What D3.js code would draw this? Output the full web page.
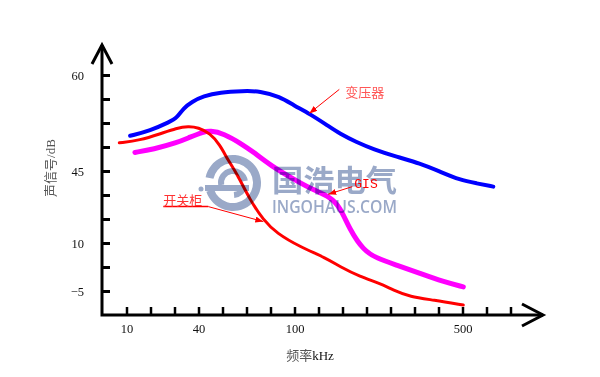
<!DOCTYPE html>
<html>
<head>
<meta charset="utf-8">
<script src="https://cdn.jsdelivr.net/npm/d3@7"></script>
<style>
  body { margin: 0; background: #fff; }
  svg { display: block; }
</style>
</head>
<body>
<div id="chart"></div>
<script>
// Labelled ticks on both axes (the axes are not to scale)
const xLabels = [10, 40, 100, 500];
const yLabels = [-5, 10, 45, 60];

// Transformer (变压器)
const transformerFreq = [11.5, 19.8, 28.1, 31.0, 33.7, 37.2, 43.0, 53.4, 67.8, 78.4, 90.9, 99.3, 136.9, 176.7, 208.3, 248.1, 287.6, 343.3, 398.8, 446.3, 494.1, 533.9, 573.3];
const transformerLevel = [50.5, 51.3, 52.7, 53.3, 54.8, 55.8, 56.7, 57.3, 57.5, 57.5, 56.6, 55.3, 53.9, 52.2, 50.8, 49.5, 48.4, 47.2, 46.2, 44.7, 40.6, 39.0, 37.4];

// GIS
const gisFreq = [13.5, 21.2, 30.9, 36.5, 43.0, 47.2, 55.5, 67.8, 74.1, 84.7, 105.2, 144.8, 184.5, 208.3, 232.1, 263.8, 295.7, 343.3, 398.8, 454.3, 501.9];
const gisLevel = [47.9, 48.4, 49.4, 50.3, 51.1, 51.3, 50.9, 49.1, 48.0, 45.9, 40.1, 35.8, 32.5, 27.6, 16.3, 7.8, 5.2, 3.1, 0.5, -2.1, -3.7];

// Switchgear (开关柜)
const switchFreq = [7.0, 15.6, 24.0, 30.9, 35.75, 39.9, 47.2, 53.4, 58.4, 63.9, 72.2, 80.5, 88.9, 113.1, 176.7, 208.3, 255.9, 303.6, 335.2, 375.0, 430.5, 501.9];
const switchLevel = [49.4, 49.8, 50.8, 51.7, 52.0, 51.8, 50.9, 49.1, 46.7, 43.9, 30.9, 21.2, 14.7, 8.8, 5.2, 2.6, -0.5, -2.6, -4.7, -6.8, -7.8, -9.4];

const width = 600, height = 377;
const origin = { x: 102, y: 315 };
const step = 24;             // spacing of the minor ticks
const xTickCount = 17, yTickCount = 10;
const xLabelTick = [0, 3, 7, 14];   // minor tick carrying each x label
const yLabelTick = [0, 2, 5, 9];    // minor tick carrying each y label

const svg = d3.select("#chart")
  .append("svg")
  .attr("width", width)
  .attr("height", height)
  .style("font-family", "'Liberation Serif', serif");

// Tick index scales, then piecewise scales for the values
const xIdx = d3.scaleLinear()
  .domain([0, xTickCount - 1])
  .range([origin.x + step + 0.5, origin.x + step * xTickCount + 0.5]);
const yIdx = d3.scaleLinear()
  .domain([0, yTickCount - 1])
  .range([origin.y - step, origin.y - step * yTickCount]);

const x = d3.scaleLinear().domain(xLabels).range(xLabelTick.map(xIdx));
const y = d3.scaleLinear().domain(yLabels).range(yLabelTick.map(yIdx));

const fmt = d3.format("d");

// x axis ticks + labels
const xAxis = svg.append("g")
  .attr("transform", `translate(0,${origin.y})`)
  .call(d3.axisBottom(xIdx)
    .tickValues(d3.range(xTickCount))
    .tickSize(-8)
    .tickPadding(9)
    .tickFormat(i => {
      const k = xLabelTick.indexOf(i);
      return k >= 0 ? fmt(xLabels[k]) : "";
    }));
xAxis.select(".domain").remove();
xAxis.selectAll("line").attr("stroke", "#000").attr("stroke-width", 2.5);
xAxis.selectAll("text").attr("font-size", 12.5).attr("fill", "#111")
  .attr("font-family", "'Liberation Serif', serif");

// y axis ticks + labels
const yAxis = svg.append("g")
  .attr("transform", `translate(${origin.x},0)`)
  .call(d3.axisLeft(yIdx)
    .tickValues(d3.range(yTickCount))
    .tickSize(-8)
    .tickPadding(18)
    .tickFormat(j => {
      const k = yLabelTick.indexOf(j);
      return k >= 0 ? fmt(yLabels[k]) : "";
    }));
yAxis.select(".domain").remove();
yAxis.selectAll("line").attr("stroke", "#000").attr("stroke-width", 3);
yAxis.selectAll("text").attr("font-size", 12.5).attr("fill", "#111")
  .attr("font-family", "'Liberation Serif', serif");

// axis lines with open arrows
const axisStyle = g => g.attr("fill", "none").attr("stroke", "#000").attr("stroke-width", 3);
svg.append("path")
  .attr("d", `M${origin.x},45 V${origin.y} H543`)
  .call(axisStyle);
svg.append("path")
  .attr("d", `M${origin.x - 10},64 L${origin.x},45 L${origin.x + 10},64`)
  .call(axisStyle);
svg.append("path")
  .attr("d", `M522,304 L543,${origin.y} L522,326`)
  .call(axisStyle);

// axis titles
svg.append("text")
  .attr("x", 310)
  .attr("y", 360)
  .attr("text-anchor", "middle")
  .attr("font-size", 13)
  .call(t => {
    t.append("tspan").attr("font-family", "'Noto Sans CJK SC'").attr("fill", "#555").text("频率");
    t.append("tspan").attr("fill", "#111").text("kHz");
  });

svg.append("text")
  .attr("transform", "translate(55,168) rotate(-90)")
  .attr("text-anchor", "middle")
  .attr("font-size", 13)
  .attr("fill", "#555")
  .call(t => {
    t.append("tspan").attr("font-family", "'Noto Sans CJK SC'").text("声信号");
    t.append("tspan").text("/dB");
  });

// curves
const line = d3.line()
  .x(d => x(d[0]))
  .y(d => y(d[1]))
  .curve(d3.curveBasis);

const series = [
  { freq: transformerFreq, level: transformerLevel, color: "#0000ff", w: 4 },
  { freq: gisFreq, level: gisLevel, color: "#ff00ff", w: 5 },
  { freq: switchFreq, level: switchLevel, color: "#ff0000", w: 3 }
];

series.forEach(s => {
  svg.append("path")
    .datum(d3.zip(s.freq, s.level))
    .attr("d", line)
    .attr("fill", "none")
    .attr("stroke", s.color)
    .attr("stroke-width", s.w)
    .attr("stroke-linecap", "round");
});

// watermark (drawn multiplied over the curves)
const wm = svg.append("g")
  .style("mix-blend-mode", "multiply")
  .attr("fill", "#9aa9c8");
const cx = 233, cy = 183;
const deg = Math.PI / 180;
wm.append("path")
  .attr("transform", `translate(${cx},${cy})`)
  .attr("d", d3.arc().innerRadius(20).outerRadius(28).startAngle(-78 * deg).endAngle(252 * deg)());
wm.append("path")
  .attr("transform", `translate(${cx},${cy})`)
  .attr("d", d3.arc().innerRadius(9).outerRadius(15).startAngle(-100 * deg).endAngle(80 * deg)());
wm.append("path")
  .attr("transform", `translate(${cx},${cy})`)
  .attr("d", d3.arc().innerRadius(9).outerRadius(15).startAngle(100 * deg).endAngle(175 * deg)());
wm.append("rect")
  .attr("x", cx - 28).attr("y", cy + 2).attr("width", 44).attr("height", 6);
wm.append("circle")
  .attr("cx", cx - 32).attr("cy", cy + 6).attr("r", 2.5);
wm.append("text")
  .attr("x", 272).attr("y", 191)
  .attr("font-family", "'Noto Sans CJK SC'")
  .attr("font-weight", "bold")
  .attr("font-size", 30)
  .attr("textLength", 125)
  .attr("lengthAdjust", "spacingAndGlyphs")
  .text("国浩电气");
wm.append("text")
  .attr("x", 272).attr("y", 213)
  .attr("font-family", "'Open Sans', sans-serif")
  .attr("font-weight", 600)
  .attr("font-size", 17.5)
  .attr("textLength", 125)
  .attr("lengthAdjust", "spacingAndGlyphs")
  .text("INGOHAUS.COM");

// annotations
svg.append("defs").append("marker")
  .attr("id", "head")
  .attr("markerUnits", "userSpaceOnUse")
  .attr("markerWidth", 8).attr("markerHeight", 6)
  .attr("refX", 8).attr("refY", 3)
  .attr("orient", "auto")
  .append("path")
  .attr("d", "M0,0 L8,3 L0,6 z")
  .attr("fill", "#ff0000");

const notes = [
  { text: "变压器", freq: 135.2, level: 54.0, dx: 30, dy: -24, tx: 6, ty: 8, font: "'Noto Sans CJK SC'", fill: "#ff5555" },
  { text: "GIS", freq: 180.5, level: 33.7, dx: 24, dy: -7.6, tx: 2, ty: 1, font: "'Liberation Mono', monospace", fill: "#ff0000" },
  { text: "开关柜", freq: 80.5, level: 20.4, dx: -55, dy: -15, tx: -45, ty: -2, font: "'Noto Sans CJK SC'", fill: "#ff3333", underline: 45 }
];

notes.forEach(n => {
  const px = x(n.freq), py = y(n.level);
  const sx = px + n.dx, sy = py + n.dy;
  svg.append("line")
    .attr("x1", sx).attr("y1", sy)
    .attr("x2", px).attr("y2", py)
    .attr("stroke", "#ff0000")
    .attr("stroke-width", 1)
    .attr("marker-end", "url(#head)");
  if (n.underline) {
    svg.append("line")
      .attr("x1", sx - n.underline).attr("y1", sy)
      .attr("x2", sx).attr("y2", sy)
      .attr("stroke", "#ff0000")
      .attr("stroke-width", 1.5);
  }
  svg.append("text")
    .attr("x", sx + n.tx)
    .attr("y", sy + n.ty)
    .attr("font-family", n.font)
    .attr("font-size", 13)
    .attr("fill", n.fill)
    .text(n.text);
});
</script>
</body>
</html>
